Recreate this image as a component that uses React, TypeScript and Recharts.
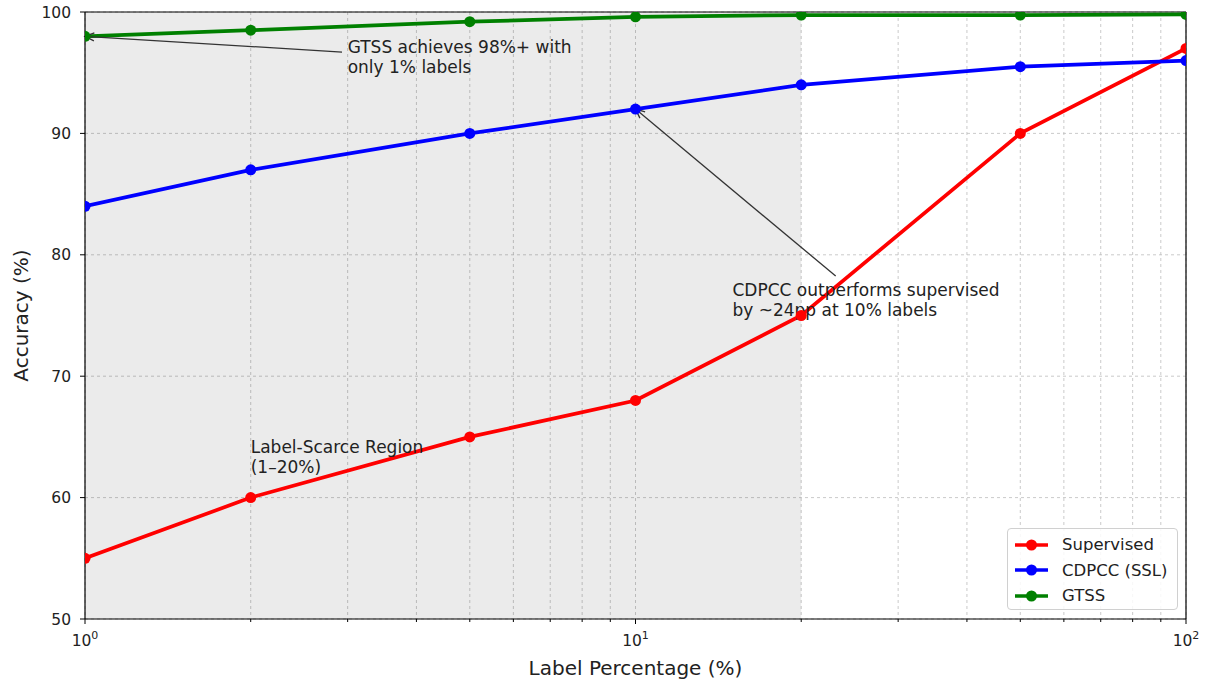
import React from 'react';
import {
    LineChart, Line, XAxis, YAxis, CartesianGrid, ReferenceArea,
    ReferenceLine, ReferenceDot, Legend
} from 'recharts';

const FONT = '"DejaVu Sans", sans-serif';

// label percentages (log axis) and accuracies
const labelPct = [1, 2, 5, 10, 20, 50, 100];
const supervised = [55, 60, 65, 68, 75, 90, 97];
const cdpcc = [84, 87, 90, 92, 94, 95.5, 96];
const gtss = [98, 98.5, 99.2, 99.6, 99.75, 99.75, 99.8];

const xTicks = [1, 2, 3, 4, 5, 6, 7, 8, 9, 10, 20, 30, 40, 50, 60, 70, 80, 90, 100];
const yTicks = [50, 60, 70, 80, 90, 100];

const SERIES = [
    { key: 'supervised', name: 'Supervised', color: '#ff0000' },
    { key: 'cdpcc', name: 'CDPCC (SSL)', color: '#0000ff' },
    { key: 'gtss', name: 'GTSS', color: '#008000' },
];

const data = labelPct.map((x, i) => ({
    x,
    supervised: supervised[i],
    cdpcc: cdpcc[i],
    gtss: gtss[i],
}));

const XTick = (props: any) => {
    const { x, y, payload } = props;
    const v = payload.value;
    const major = v === 1 || v === 10 || v === 100;
    const exp = Math.round(Math.log10(v));
    return (
        <g>
            <line x1={x} x2={x} y1={y} y2={y + (major ? 5 : 3)} stroke="#000" strokeWidth={1} />
            {major && (
                <text x={x} y={y + 27} textAnchor="middle" fontSize={15.5} fill="#222" fontFamily={FONT}>
                    <tspan>10</tspan>
                    <tspan dy={-7} fontSize={11}>{exp}</tspan>
                </text>
            )}
        </g>
    );
};

const Arrow = (p: any) => {
    const { x1, y1, x2, y2 } = p;
    const ang = Math.atan2(y2 - y1, x2 - x1);
    const L = 10;
    const a = 0.42;
    const hx1 = x2 - L * Math.cos(ang - a);
    const hy1 = y2 - L * Math.sin(ang - a);
    const hx2 = x2 - L * Math.cos(ang + a);
    const hy2 = y2 - L * Math.sin(ang + a);
    return (
        <g>
            <line x1={x1} y1={y1} x2={x2} y2={y2} stroke="#333" strokeWidth={1.3} />
            <path d={`M${hx1},${hy1} L${x2},${y2} L${hx2},${hy2}`} fill="none" stroke="#333" strokeWidth={1.3} />
        </g>
    );
};

const note = (lines: string[]) => (p: any) => (
    <text x={p.cx} y={p.cy} fontSize={17} fill="#222" fontFamily={FONT}>
        {lines.map((t, i) => (
            <tspan key={i} x={p.cx} dy={i === 0 ? 0 : 20}>{t}</tspan>
        ))}
    </text>
);

const LegendBox = () => (
    <div style={{
        width: 171, height: 82, boxSizing: 'border-box', background: 'rgba(255,255,255,0.85)',
        border: '1px solid #d0d0d0', borderRadius: 4, fontFamily: FONT, fontSize: 16.5, color: '#222',
        paddingTop: 3,
    }}>
        {SERIES.map(s => (
            <div key={s.key} style={{ display: 'flex', alignItems: 'center', height: 25.5 }}>
                <svg width={33} height={14} style={{ marginLeft: 7, marginRight: 14 }}>
                    <line x1={0} x2={33} y1={7} y2={7} stroke={s.color} strokeWidth={3.5} />
                    <circle cx={16.5} cy={7} r={5.5} fill={s.color} />
                </svg>
                <span>{s.name}</span>
            </div>
        ))}
    </div>
);

const YLabel = (props: any) => {
    const vb = props.viewBox || {};
    const cx = 21;
    const cy = vb.y + vb.height / 2;
    return (
        <text x={cx} y={cy} transform={`rotate(-90 ${cx} ${cy})`} textAnchor="middle" dominantBaseline="central"
            fontSize={20} fill="#222" fontFamily={FONT}>Accuracy (%)</text>
    );
};

const XLabel = (props: any) => {
    const vb = props.viewBox || {};
    return (
        <text x={vb.x + vb.width / 2} y={vb.y + 56} textAnchor="middle" fontSize={20} fill="#222" fontFamily={FONT}>
            Label Percentage (%)
        </text>
    );
};

export default function App() {
    return (
        <div style={{ position: 'absolute', left: 0, top: 0, width: 1205, height: 682, background: '#fff' }}>
            <LineChart width={1205} height={682} data={data} margin={{ top: 12, right: 19, left: 0, bottom: 0 }}>
                <ReferenceArea x1={1} x2={20} y1={50} y2={100} fill="#000" fillOpacity={0.08} stroke="none" />
                <CartesianGrid stroke="#bdbdbd" strokeDasharray="3 3" strokeWidth={0.8} />
                <XAxis
                    dataKey="x" type="number" scale="log" domain={[1, 100]} ticks={xTicks}
                    allowDataOverflow interval={0} height={63} tickSize={0} tickMargin={0}
                    tick={<XTick />} axisLine={{ stroke: '#000', strokeWidth: 1.2 }} tickLine={false}
                    label={<XLabel />}
                />
                <YAxis
                    type="number" domain={[50, 100]} ticks={yTicks} width={85} allowDataOverflow
                    tickSize={5} tickMargin={9} tick={{ fontSize: 15.5, fill: '#222', fontFamily: FONT }}
                    axisLine={{ stroke: '#000', strokeWidth: 1.2 }} tickLine={{ stroke: '#000' }}
                    label={<YLabel />}
                />
                <ReferenceLine y={100} stroke="#000" strokeWidth={1.2} />
                <ReferenceLine x={100} stroke="#000" strokeWidth={1.2} />
                {SERIES.map(s => (
                    <Line
                        key={s.key} dataKey={s.key} name={s.name} type="linear" stroke={s.color} strokeWidth={3.7}
                        dot={{ r: 5.5, fill: s.color, stroke: s.color, strokeWidth: 0 }} activeDot={false}
                        isAnimationActive={false}
                    />
                ))}
                <ReferenceLine segment={[{ x: 2.93, y: 96.7 }, { x: 1, y: 98 }]} shape={<Arrow />} />
                <ReferenceLine segment={[{ x: 23.1, y: 78.25 }, { x: 10, y: 92 }]} shape={<Arrow />} />
                <ReferenceDot x={3} y={96.62} r={0} shape={note(['GTSS achieves 98%+ with', 'only 1% labels'])} />
                <ReferenceDot x={15} y={76.6} r={0} shape={note(['CDPCC outperforms supervised', 'by ~24pp at 10% labels'])} />
                <ReferenceDot x={2} y={63.67} r={0} shape={note(['Label-Scarce Region', '(1\u201320%)'])} />
                <Legend
                    layout="vertical" align="center" verticalAlign="middle"
                    content={<LegendBox />}
                    wrapperStyle={{ left: 1007, top: 528, width: 171, height: 82, right: 'auto', bottom: 'auto' }}
                />
            </LineChart>
        </div>
    );
}
